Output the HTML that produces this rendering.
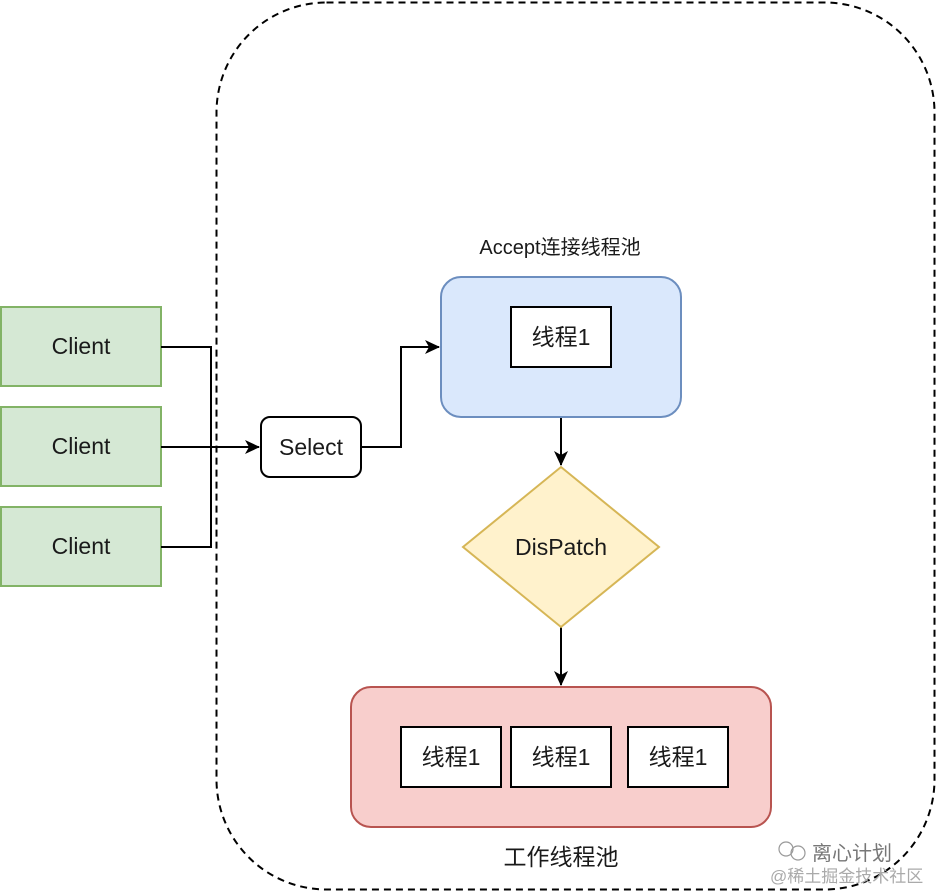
<!DOCTYPE html>
<html><head><meta charset="utf-8"><style>
html,body{margin:0;padding:0;background:#fff;}
svg{display:block;}
text{font-family:"Liberation Sans","Noto Sans CJK SC",sans-serif;font-size:23px;fill:#1a1a1a;}
</style></head><body>
<svg width="938" height="892" viewBox="0 0 938 892" xmlns="http://www.w3.org/2000/svg">
<defs><marker id="a" markerWidth="16" markerHeight="14" refX="14" refY="7" orient="auto" markerUnits="userSpaceOnUse"><path d="M0,0 L15,7 L0,14 L4,7 Z" fill="#000"/></marker></defs>
<rect x="216.5" y="2.5" width="718" height="887" rx="110" ry="110" fill="none" stroke="#000" stroke-width="2" stroke-dasharray="7,5"/>
<g fill="#d5e8d4" stroke="#82b366" stroke-width="2">
<rect x="1" y="307" width="160" height="79"/>
<rect x="1" y="407" width="160" height="79"/>
<rect x="1" y="507" width="160" height="79"/>
</g>
<text x="81" y="354" text-anchor="middle">Client</text>
<text x="81" y="454" text-anchor="middle">Client</text>
<text x="81" y="554" text-anchor="middle">Client</text>
<g fill="none" stroke="#000" stroke-width="2">
<path d="M161 347 H211 V547 H161"/>
<path d="M161 447 H259" marker-end="url(#a)"/>
<path d="M361 447 H401 V347 H439" marker-end="url(#a)"/>
<path d="M561 417 V465" marker-end="url(#a)"/>
<path d="M561 627 V685" marker-end="url(#a)"/>
</g>
<rect x="261" y="417" width="100" height="60" rx="9" fill="#fff" stroke="#000" stroke-width="2"/>
<text x="311" y="455" text-anchor="middle">Select</text>
<text x="560" y="254" text-anchor="middle" style="font-size:20px">Accept连接线程池</text>
<rect x="441" y="277" width="240" height="140" rx="20" fill="#dae8fc" stroke="#6c8ebf" stroke-width="2"/>
<rect x="511" y="307" width="100" height="60" fill="#fff" stroke="#000" stroke-width="2"/>
<text x="561" y="345" text-anchor="middle">线程1</text>
<polygon points="561,467 659,547 561,627 463,547" fill="#fff2cc" stroke="#d6b656" stroke-width="2"/>
<text x="561" y="555" text-anchor="middle">DisPatch</text>
<rect x="351" y="687" width="420" height="140" rx="20" fill="#f8cecc" stroke="#b85450" stroke-width="2"/>
<g fill="#fff" stroke="#000" stroke-width="2">
<rect x="401" y="727" width="100" height="60"/>
<rect x="511" y="727" width="100" height="60"/>
<rect x="628" y="727" width="100" height="60"/>
</g>
<text x="451" y="765" text-anchor="middle">线程1</text>
<text x="561" y="765" text-anchor="middle">线程1</text>
<text x="678" y="765" text-anchor="middle">线程1</text>
<text x="561" y="865" text-anchor="middle">工作线程池</text>
<g fill="none" stroke="#999" stroke-width="1.2"><circle cx="786" cy="849" r="7"/><circle cx="798" cy="853" r="7"/></g>
<text x="812" y="860" style="font-size:20px;fill:#777">离心计划</text>
<text x="770" y="882" style="font-size:17px;fill:#aaa">@稀土掘金技术社区</text>
</svg>
</body></html>
